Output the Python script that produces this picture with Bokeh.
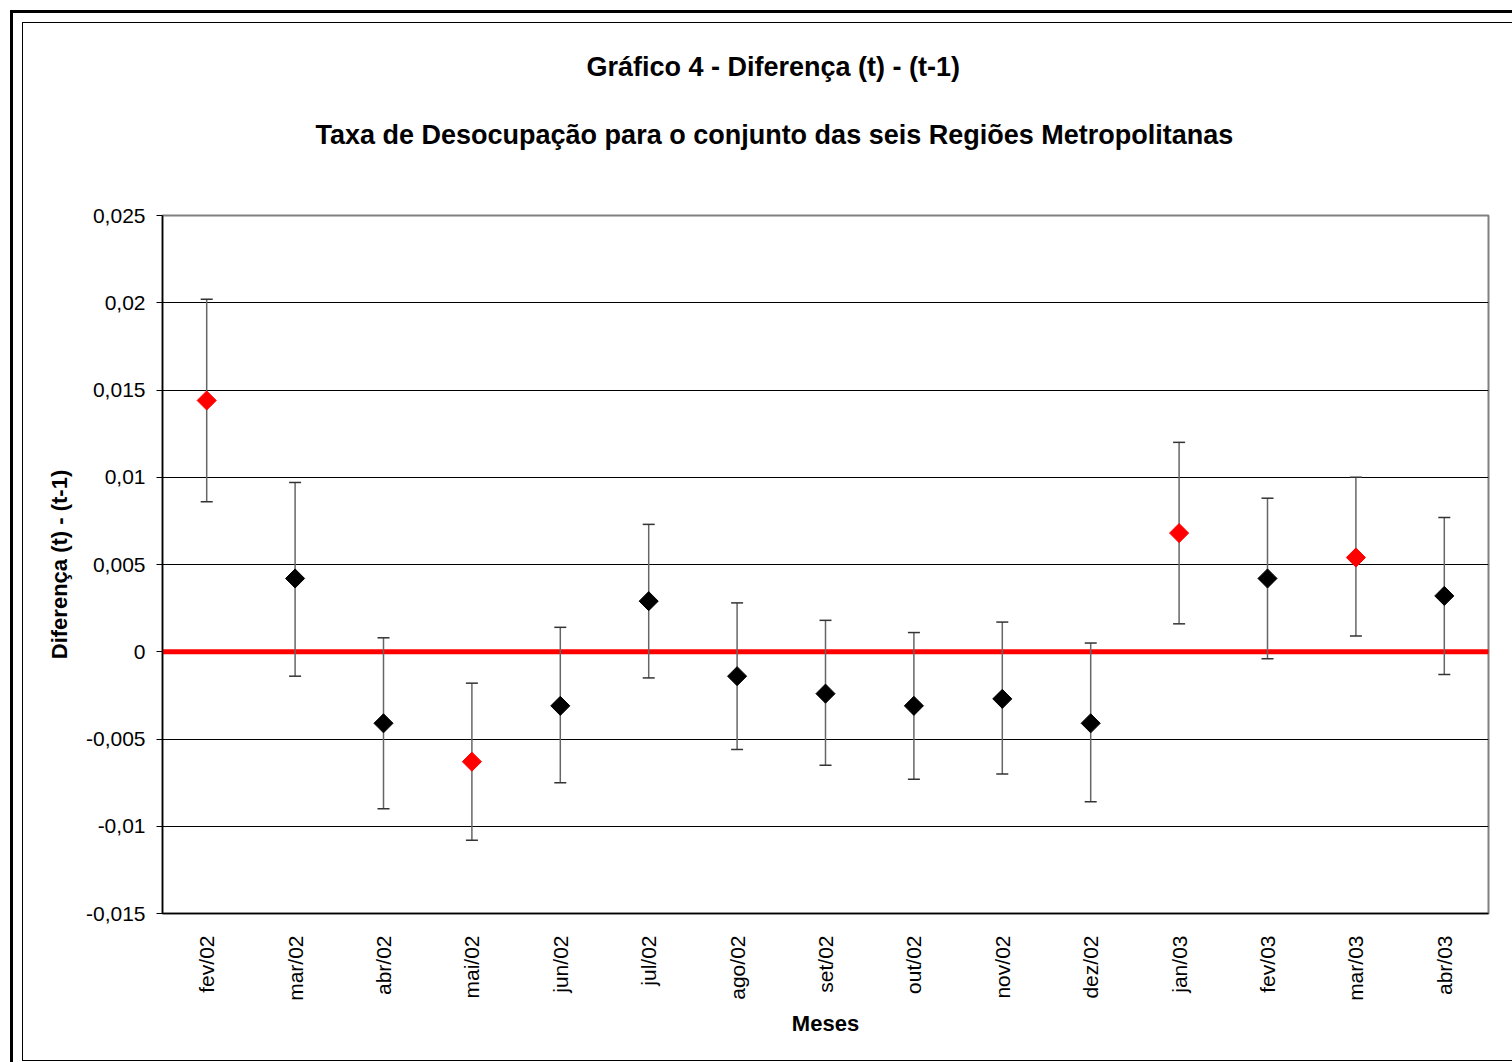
import math
from bokeh.plotting import figure
from bokeh.models import (ColumnDataSource, Range1d, FactorRange, FixedTicker, CustomJSTickFormatter,
                          Whisker, TeeHead, Span, Title, InlineStyleSheet)
from bokeh.embed import file_html
from bokeh.resources import INLINE

# ---- data ----
months = ["fev/02", "mar/02", "abr/02", "mai/02", "jun/02", "jul/02", "ago/02", "set/02",
          "out/02", "nov/02", "dez/02", "jan/03", "fev/03", "mar/03", "abr/03"]
diff = [0.0144, 0.0042, -0.0041, -0.0063, -0.0031, 0.0029, -0.0014, -0.0024,
        -0.0031, -0.0027, -0.0041, 0.0068, 0.0042, 0.0054, 0.0032]
upper = [0.0202, 0.0097, 0.0008, -0.0018, 0.0014, 0.0073, 0.0028, 0.0018,
         0.0011, 0.0017, 0.0005, 0.0120, 0.0088, 0.0100, 0.0077]
lower = [0.0086, -0.0014, -0.0090, -0.0108, -0.0075, -0.0015, -0.0056, -0.0065,
         -0.0073, -0.0070, -0.0086, 0.0016, -0.0004, 0.0009, -0.0013]
y_ticks = [-0.015, -0.01, -0.005, 0, 0.005, 0.01, 0.015, 0.02, 0.025]
title1 = "Gráfico 4 - Diferença (t) - (t-1)"
title2 = "Taxa de Desocupação para o conjunto das seis Regiões Metropolitanas"
y_label = "Diferença (t) - (t-1)"
x_label = "Meses"

FONT = "Liberation Sans"

colors = ["#FF0000" if (lo > 0 or up < 0) else "#000000" for lo, up in zip(lower, upper)]
src = ColumnDataSource(dict(m=months, d=diff, up=upper, lo=lower, c=colors))

W, H = 1512, 1062
p = figure(width=W, height=H, x_range=FactorRange(*months, range_padding=0),
           y_range=Range1d(y_ticks[0], y_ticks[-1]),
           output_backend="svg", toolbar_location=None,
           min_border_left=162, min_border_right=24, min_border_top=215, min_border_bottom=149)
p.background_fill_color = "white"
p.border_fill_color = "white"
p.outline_line_color = "#808080"
p.outline_line_width = 2

p.xgrid.grid_line_color = None
p.ygrid.grid_line_color = "#000000"
p.ygrid.grid_line_width = 1

p.yaxis.ticker = FixedTicker(ticks=y_ticks)
p.yaxis.formatter = CustomJSTickFormatter(code="return parseFloat(tick.toFixed(4)).toString().replace('.', ',');")
p.yaxis.major_tick_out = 6
p.yaxis.major_tick_in = 0
p.yaxis.minor_tick_line_color = None
p.yaxis.major_label_standoff = 11
p.yaxis.axis_label = y_label
p.yaxis.axis_label_standoff = 11

p.xaxis.major_tick_out = 0
p.xaxis.major_tick_in = 0
p.xaxis.major_label_orientation = math.pi / 2
p.xaxis.major_label_standoff = 22
p.xaxis.axis_label = x_label
p.xaxis.axis_label_standoff = 7

for ax in (p.xaxis, p.yaxis):
    ax.axis_line_color = "#000000"
    ax.axis_line_width = 1.5
    ax.major_tick_line_color = "#000000"
    ax.major_label_text_font = FONT
    ax.major_label_text_font_size = "21px"
    ax.major_label_text_color = "#000000"
    ax.axis_label_text_font = FONT
    ax.axis_label_text_font_size = "22px"
    ax.axis_label_text_font_style = "bold"
    ax.axis_label_text_color = "#000000"

zero = Span(location=0, dimension="width", line_color="#FF0000", line_width=5, level="underlay")
p.add_layout(zero)

wh = Whisker(base="m", upper="up", lower="lo", source=src, level="underlay",
             line_color="#666666", line_width=1.5,
             upper_head=TeeHead(size=12, line_color="#333333", line_width=1.5),
             lower_head=TeeHead(size=12, line_color="#333333", line_width=1.5))
p.add_layout(wh)

p.scatter(x="m", y="d", source=src, marker="square", size=13.5, angle=math.pi / 4,
          fill_color="c", line_color="c")

# titles: first added sits nearest the frame
p.add_layout(Title(text=title2, align="left", offset=153, standoff=131, text_font=FONT,
                   text_font_size="27px", text_font_style="bold", text_color="#000000"), "above")
p.add_layout(Title(text=title1, align="left", offset=424, standoff=-58, text_font=FONT,
                   text_font_size="27px", text_font_style="bold", text_color="#000000"), "above")

# chart-area borders (outer thick + inner thin)
p.stylesheets = [InlineStyleSheet(css="""
:host { position: relative; }
:host::before {
  content: ""; position: absolute; left: 9.5px; top: 9.5px; right: -20px; bottom: -20px;
  border-left: 3px solid #000; border-top: 3px solid #000; pointer-events: none; z-index: 20;
  box-sizing: border-box;
}
:host::after {
  content: ""; position: absolute; left: 22px; top: 22px; right: -20px; height: 1039px;
  border-left: 1.5px solid #000; border-top: 1.5px solid #000; border-bottom: 1.5px solid #000;
  pointer-events: none; z-index: 20; box-sizing: border-box;
}
""")]

open("out.html", "w").write(file_html(p, INLINE))
